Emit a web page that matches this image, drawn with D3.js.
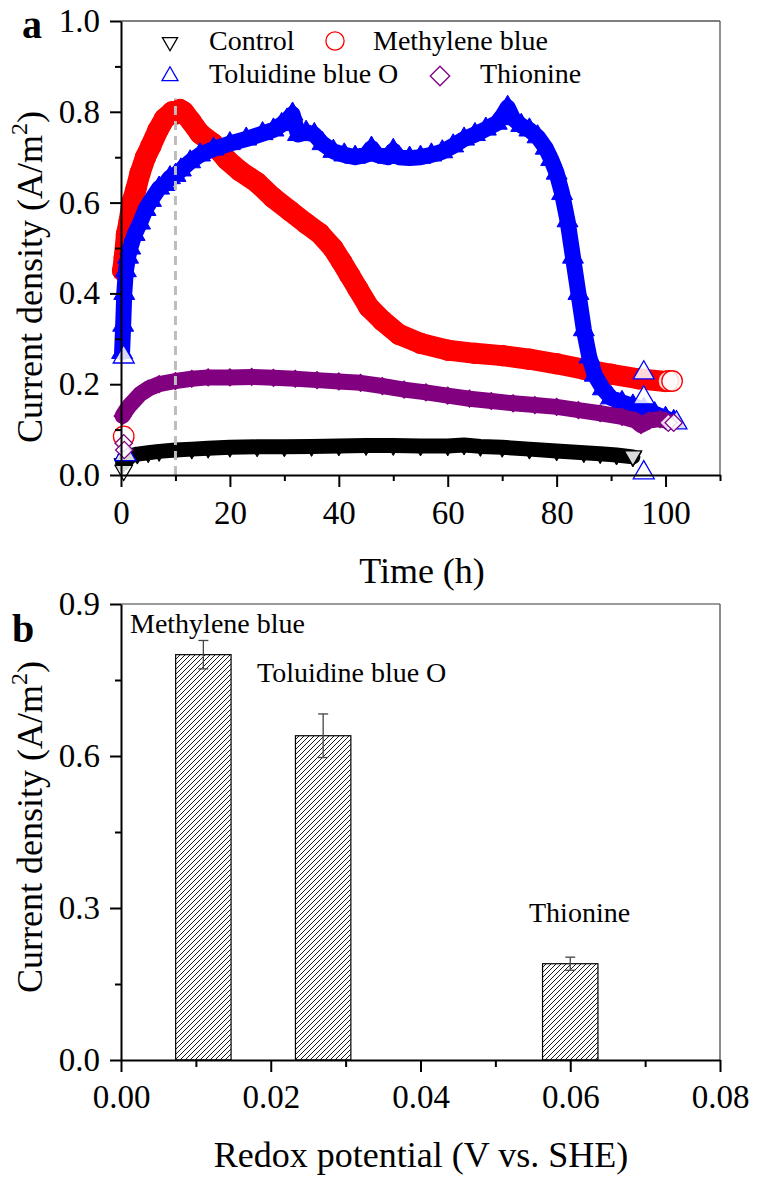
<!DOCTYPE html>
<html><head><meta charset="utf-8">
<script src="https://cdn.jsdelivr.net/npm/d3@7"></script>
<style>
body{margin:0;background:#fff;}
svg{display:block;}
text{font-family:"Liberation Serif","LiberationSerif","Tinos","Times New Roman","Times","Nimbus Roman","DejaVu Serif",serif;fill:#000;}
</style></head><body>
<svg id="chart" width="757" height="1181"></svg>
<script>
// ---------------- DATA ----------------
const timeTicks = [0, 20, 40, 60, 80, 100];
const timeMinorTicks = [10, 30, 50, 70, 90, 110];
const currentTicksA = [0.0, 0.2, 0.4, 0.6, 0.8, 1.0];
const currentMinorA = [0.1, 0.3, 0.5, 0.7, 0.9];
const potentialTicks = [0.00, 0.02, 0.04, 0.06, 0.08];
const potentialMinor = [0.01, 0.03, 0.05, 0.07];
const currentTicksB = [0.0, 0.3, 0.6, 0.9];
const currentMinorB = [0.15, 0.45, 0.75];

const seriesNames = ["Control", "Methylene blue", "Toluidine blue O", "Thionine"];

// [time (h), current density (A/m2)]
const controlData = [[0.3,0.025],[1,0.035],[2,0.043],[3,0.046],[5,0.049],[7,0.052],[10,0.055],[13,0.057],[16,0.059],[20,0.061],[25,0.062],[30,0.062],[35,0.063],[40,0.064],[45,0.065],[50,0.065],[55,0.064],[60,0.064],[63,0.066],[66,0.063],[70,0.061],[75,0.057],[80,0.053],[85,0.049],[88,0.047],[91,0.044],[94,0.040]];
const methyleneData = [[0.3,0.45],[0.6,0.48],[1,0.53],[1.5,0.56],[2,0.60],[2.75,0.63],[3.5,0.665],[4.5,0.70],[5.5,0.725],[6.8,0.76],[8,0.785],[9.4,0.80],[10,0.795],[10.8,0.805],[11.5,0.80],[12.8,0.78],[14.5,0.752],[16.9,0.73],[19.4,0.695],[21.8,0.67],[25,0.644],[27.9,0.611],[31,0.582],[34,0.554],[36.5,0.532],[38.9,0.50],[40.5,0.47],[42,0.44],[43.5,0.41],[45.5,0.37],[48,0.34],[51,0.31],[55,0.29],[60,0.275],[65,0.268],[70,0.263],[75,0.255],[80,0.245],[85,0.233],[90,0.222],[95,0.212],[100,0.206]];
const toluidineData = [[0.2,0.27],[0.4,0.33],[0.6,0.40],[0.9,0.45],[1.3,0.48],[1.7,0.50],[2.5,0.53],[3.5,0.555],[4.5,0.585],[5.5,0.605],[7,0.632],[8,0.64],[9,0.655],[10,0.66],[11,0.672],[12.7,0.69],[14.5,0.705],[17,0.718],[20,0.73],[23,0.74],[26,0.752],[28,0.76],[29.5,0.772],[30.5,0.782],[31.5,0.795],[32.5,0.75],[34,0.755],[35.5,0.75],[37,0.73],[39,0.713],[41,0.705],[43,0.70],[45,0.705],[46,0.72],[47,0.705],[49,0.70],[50,0.715],[51,0.70],[53,0.698],[55,0.70],[57,0.705],[59,0.712],[61,0.725],[63,0.74],[65,0.75],[67,0.762],[69,0.775],[70,0.79],[71,0.81],[72,0.785],[73.5,0.77],[75,0.76],[76.5,0.745],[78,0.72],[79,0.695],[80,0.665],[81,0.62],[82,0.56],[83,0.48],[84,0.40],[85,0.32],[86,0.26],[87,0.22],[88.5,0.19],[90,0.17],[92,0.16],[94,0.152],[96,0.145],[98,0.135],[100,0.125],[101.5,0.118]];
const thionineData = [[0.3,0.13],[0.8,0.14],[1.5,0.152],[2.5,0.165],[3.5,0.178],[5,0.19],[7,0.20],[10,0.207],[13,0.212],[16,0.215],[20,0.215],[24,0.216],[28,0.214],[32,0.212],[36,0.209],[40,0.206],[44,0.203],[48,0.196],[52,0.188],[56,0.182],[60,0.175],[64,0.168],[68,0.163],[72,0.158],[76,0.154],[80,0.15],[84,0.143],[88,0.136],[92,0.128],[94.5,0.12],[95.5,0.11],[97,0.12],[99,0.123],[100,0.12]];

// isolated (visible hollow) markers
const controlLoose = [[0.5,0.01],[94,0.042]];
const methyleneLoose = [[0.5,0.085],[100.5,0.207],[101.2,0.207]];
const toluidineLoose = [[0.5,0.26],[0.8,0.045],[96,0.225],[96,0.17],[96,0.005],[102,0.115]];
const thionineLoose = [[0.5,0.07],[0.6,0.055],[100.5,0.115],[101.5,0.115]];

const peakTime = 10;
const peakTop = 0.83;

// panel b
const mediators = ["Methylene blue", "Toluidine blue O", "Thionine"];
const redoxPotential = [0.011, 0.027, 0.060];
const maxCurrent = [0.80, 0.64, 0.19];
const currentError = [0.028, 0.043, 0.013];

// ---------------- DRAW ----------------
const svg = d3.select("#chart");
const SERIF = '"Liberation Serif","LiberationSerif","Tinos","Times New Roman","Times","Nimbus Roman","DejaVu Serif",serif';
const TICK_FS = 33;

const A = {l:121, r:720, t:21, b:475};
const B = {l:121, r:720, t:604, b:1060};

const xA = d3.scaleLinear().domain([0,110]).range([A.l, A.r]);
const yA = d3.scaleLinear().domain([0,1]).range([A.b, A.t]);
const xB = d3.scaleLinear().domain([0,0.08]).range([B.l, B.r]);
const yB = d3.scaleLinear().domain([0,0.9]).range([B.b, B.t]);

function styleAxis(g, lw){
  g.selectAll("path.domain").attr("stroke","#000").attr("stroke-width",lw);
  g.selectAll(".tick line").attr("stroke","#000").attr("stroke-width",lw);
  g.selectAll(".tick text").attr("font-family",SERIF).attr("font-size",TICK_FS).attr("fill","#000");
}

function drawFrame(P, topColor, rightColor, topW, rightW){
  svg.append("line").attr("x1",P.l).attr("x2",P.r).attr("y1",P.t).attr("y2",P.t)
    .attr("stroke",topColor).attr("stroke-width",topW);
  svg.append("line").attr("x1",P.r).attr("x2",P.r).attr("y1",P.t).attr("y2",P.b)
    .attr("stroke",rightColor).attr("stroke-width",rightW);
}

function addText(x, y, txt, size, anchor){
  return svg.append("text").attr("x",x).attr("y",y).attr("font-family",SERIF)
    .attr("font-size",size).attr("text-anchor",anchor||"start").text(txt);
}

// ===== Panel a =====
drawFrame(A, "#555", "#555", 1.3, 1.3);

const dataLayer = svg.append("g");

const symbolDefs = [
  {data:controlData, loose:controlLoose, color:"#000000", type:d3.symbolTriangle, size:130, rot:180, band:15},
  {data:methyleneData, loose:methyleneLoose, color:"#ff0000", type:d3.symbolCircle, size:330, rot:0, band:21},
  {data:toluidineData, loose:toluidineLoose, color:"#0000ff", type:d3.symbolTriangle, size:190, rot:0, band:16},
  {data:thionineData, loose:thionineLoose, color:"#800080", type:d3.symbolSquare, size:150, rot:45, band:16}
];

const line = d3.line().x(d=>xA(d[0])).y(d=>yA(d[1]));

symbolDefs.forEach(s=>{
  const g = dataLayer.append("g");
  g.append("path").datum(s.data).attr("d",line).attr("fill","none")
    .attr("stroke",s.color).attr("stroke-width",s.band)
    .attr("stroke-linejoin","round").attr("stroke-linecap","round");
  const sym = d3.symbol().type(s.type).size(s.size);
  g.selectAll("path.pt").data(s.data).join("path").attr("class","pt")
    .attr("d",sym)
    .attr("transform",d=>`translate(${xA(d[0])},${yA(d[1])}) rotate(${s.rot})`)
    .attr("fill",s.color).attr("stroke",s.color).attr("stroke-width",1);
});
symbolDefs.forEach(s=>{
  const sym = d3.symbol().type(s.type).size(s.size);
  dataLayer.append("g").selectAll("path").data(s.loose).join("path")
    .attr("d",sym)
    .attr("transform",d=>`translate(${xA(d[0])},${yA(d[1])}) rotate(${s.rot})`)
    .attr("fill","#fff").attr("fill-opacity",0.85).attr("stroke",s.color).attr("stroke-width",1.3);
});

svg.append("line")
  .attr("x1",xA(peakTime)).attr("x2",xA(peakTime))
  .attr("y1",yA(0)).attr("y2",yA(peakTop))
  .attr("stroke","#bdbdbd").attr("stroke-width",3).attr("stroke-dasharray","9,6");

const gAx = svg.append("g").attr("transform",`translate(0,${A.b})`);
gAx.call(d3.axisBottom(xA).tickValues(timeMinorTicks).tickSize(6).tickFormat("").tickSizeOuter(0));
gAx.select("path.domain").remove();
styleAxis(gAx,2);
const gAx2 = svg.append("g").attr("transform",`translate(0,${A.b})`);
gAx2.call(d3.axisBottom(xA).tickValues(timeTicks).tickSize(12).tickPadding(14).tickFormat(d3.format("d")).tickSizeOuter(0));
styleAxis(gAx2,2);

const gAy = svg.append("g").attr("transform",`translate(${A.l},0)`);
gAy.call(d3.axisLeft(yA).tickValues(currentMinorA).tickSize(6).tickFormat("").tickSizeOuter(0));
gAy.select("path.domain").remove();
styleAxis(gAy,2);
const gAy2 = svg.append("g").attr("transform",`translate(${A.l},0)`);
gAy2.call(d3.axisLeft(yA).tickValues(currentTicksA).tickSize(11).tickPadding(10).tickFormat(d3.format(".1f")).tickSizeOuter(0));
styleAxis(gAy2,2);

addText(422, 583, "Time (h)", 36, "middle");
function yTitle(cx, cy){
  const t = svg.append("text").attr("transform",`translate(${cx},${cy}) rotate(-90)`)
    .attr("font-family",SERIF).attr("text-anchor","middle").attr("font-size",36);
  t.append("tspan").text("Current density (A/m");
  t.append("tspan").attr("font-size",24).attr("dy",-15).text("2");
  t.append("tspan").attr("dy",15).text(")");
}
yTitle(42, 277);
svg.append("text").attr("x",22).attr("y",38).attr("font-family","'Liberation Sans',Arial,sans-serif")
  .attr("font-weight","bold").attr("font-size",40).text("a");

const legendItems = [
  {i:0, sx:170, sy:42, tx:209, ty:50},
  {i:1, sx:335, sy:41, tx:373, ty:50},
  {i:2, sx:170, sy:76, tx:209, ty:83},
  {i:3, sx:440, sy:76, tx:480, ty:83}
];
const legendSizes = [100, 260, 110, 190];
legendItems.forEach(it=>{
  const s = symbolDefs[it.i];
  svg.append("path").attr("d",d3.symbol().type(s.type).size(legendSizes[it.i]))
    .attr("transform",`translate(${it.sx},${it.sy}) rotate(${s.rot})`)
    .attr("fill","none").attr("stroke",s.color).attr("stroke-width",1.3);
  addText(it.tx, it.ty, seriesNames[it.i], 28);
});

// ===== Panel b =====
const defs = svg.append("defs");
const pat = defs.append("pattern").attr("id","hatch").attr("patternUnits","userSpaceOnUse")
  .attr("width",5).attr("height",5);
pat.append("rect").attr("width",5).attr("height",5).attr("fill","#fff");
pat.append("path").attr("d","M0,5 L5,0 M-1,1 L1,-1 M4,6 L6,4")
  .attr("stroke","#000").attr("stroke-width",0.9);

drawFrame(B, "#9a9a9a", "#666", 2, 1.5);

const barW = 0.0074;
const bars = svg.append("g");
mediators.forEach((m,i)=>{
  const x0 = xB(redoxPotential[i]-barW/2), x1 = xB(redoxPotential[i]+barW/2);
  bars.append("rect").attr("x",x0).attr("y",yB(maxCurrent[i]))
    .attr("width",x1-x0).attr("height",yB(0)-yB(maxCurrent[i]))
    .attr("fill","url(#hatch)").attr("stroke","#000").attr("stroke-width",1.2);
  const cx = xB(redoxPotential[i]);
  const yt = yB(maxCurrent[i]+currentError[i]), yb = yB(maxCurrent[i]-currentError[i]);
  bars.append("line").attr("x1",cx).attr("x2",cx).attr("y1",yt).attr("y2",yb).attr("stroke","#444").attr("stroke-width",1.3);
  bars.append("line").attr("x1",cx-5).attr("x2",cx+5).attr("y1",yt).attr("y2",yt).attr("stroke","#444").attr("stroke-width",1.3);
  bars.append("line").attr("x1",cx-5).attr("x2",cx+5).attr("y1",yb).attr("y2",yb).attr("stroke","#444").attr("stroke-width",1.3);
});
const barLabelPos = [[130,633],[257,682],[529,922]];
mediators.forEach((m,i)=>{ addText(barLabelPos[i][0], barLabelPos[i][1], m, 28); });

const gBx = svg.append("g").attr("transform",`translate(0,${B.b})`);
gBx.call(d3.axisBottom(xB).tickValues(potentialMinor).tickSize(7).tickFormat("").tickSizeOuter(0));
gBx.select("path.domain").remove();
styleAxis(gBx,2);
const gBx2 = svg.append("g").attr("transform",`translate(0,${B.b})`);
gBx2.call(d3.axisBottom(xB).tickValues(potentialTicks).tickSize(12).tickPadding(13).tickFormat(d3.format(".2f")).tickSizeOuter(0));
styleAxis(gBx2,2);

const gBy = svg.append("g").attr("transform",`translate(${B.l},0)`);
gBy.call(d3.axisLeft(yB).tickValues(currentMinorB).tickSize(6).tickFormat("").tickSizeOuter(0));
gBy.select("path.domain").remove();
styleAxis(gBy,2);
const gBy2 = svg.append("g").attr("transform",`translate(${B.l},0)`);
gBy2.call(d3.axisLeft(yB).tickValues(currentTicksB).tickSize(11).tickPadding(10).tickFormat(d3.format(".1f")).tickSizeOuter(0));
styleAxis(gBy2,2);

addText(421, 1167, "Redox potential (V vs. SHE)", 36, "middle");
yTitle(42, 827);
svg.append("text").attr("x",12).attr("y",642).attr("font-family","'Liberation Sans',Arial,sans-serif")
  .attr("font-weight","bold").attr("font-size",40).text("b");
</script>
</body></html>
